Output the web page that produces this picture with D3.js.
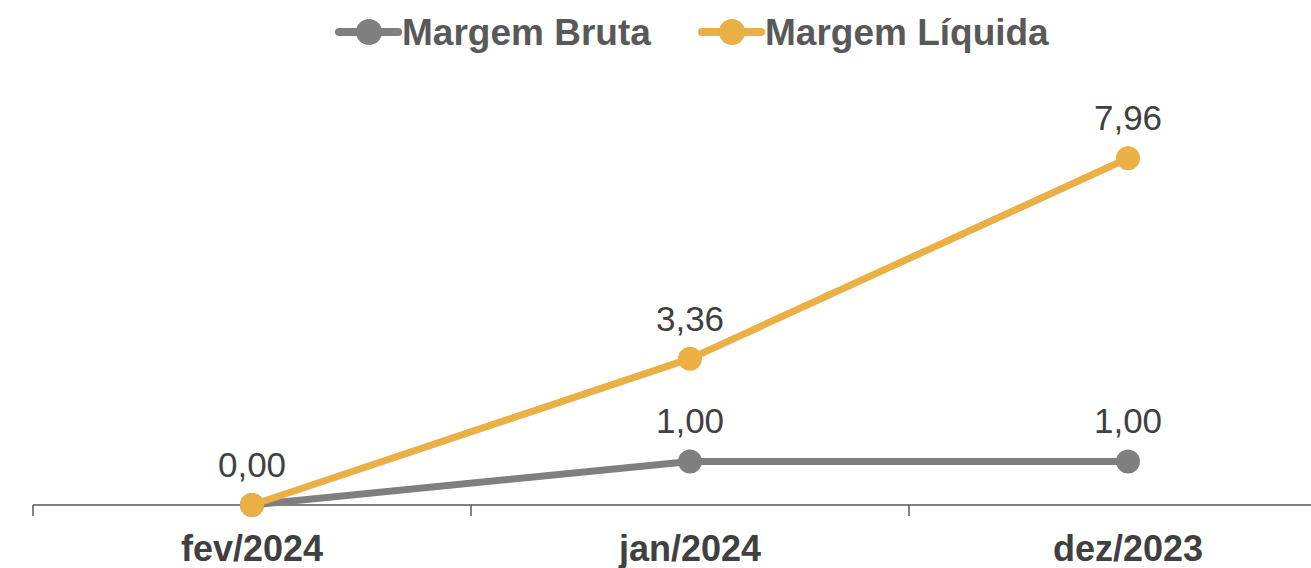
<!DOCTYPE html>
<html>
<head>
<meta charset="utf-8">
<script src="https://cdn.jsdelivr.net/npm/d3@7"></script>
<style>
  body { margin: 0; background: #fff; }
  svg text { font-family: "Liberation Sans", Arial, sans-serif; }
</style>
</head>
<body>
<div id="main"></div>
<script>
// chart data
const categories = ["fev/2024", "jan/2024", "dez/2023"];
const margemBruta = [0.00, 1.00, 1.00];
const margemLiquida = [0.00, 3.36, 7.96];
const seriesNames = ["Margem Bruta", "Margem Líquida"];
const seriesColors = ["#7f7f7f", "#eaaf45"];

const width = 1311;
const height = 568;
const fmt = v => d3.format(".2f")(v).replace(".", ",");

const svg = d3.select('#main').append('svg')
  .attr('width', width).attr('height', height);

// scales
const xScale = d3.scaleBand().domain(categories).range([33, 1347]);
const yScale = d3.scaleLinear().domain([0, 9]).range([505, 113]);
const xc = c => xScale(c) + xScale.bandwidth() / 2;

// x axis with ticks between categories
const axis = svg.append('g').attr('id', 'x-axis');
axis.append('line')
  .attr('x1', xScale.range()[0]).attr('x2', xScale.range()[1])
  .attr('y1', yScale(0)).attr('y2', yScale(0))
  .attr('stroke', '#595959').attr('stroke-width', 1.5);
axis.selectAll('line.tick').data(categories.concat(["end"]))
  .enter().append('line').attr('class', 'tick')
  .attr('x1', (d, i) => xScale.range()[0] + i * xScale.step())
  .attr('x2', (d, i) => xScale.range()[0] + i * xScale.step())
  .attr('y1', yScale(0)).attr('y2', yScale(0) + 11)
  .attr('stroke', '#595959').attr('stroke-width', 1.5);
axis.selectAll('text').data(categories)
  .enter().append('text')
  .attr('x', d => xc(d)).attr('y', 561)
  .attr('text-anchor', 'middle')
  .attr('font-size', 36).attr('font-weight', 'bold')
  .attr('fill', '#404040')
  .text(d => d);

// series (drawn so that Liquida sits on top)
const series = [
  { name: seriesNames[0], values: margemBruta, color: seriesColors[0] },
  { name: seriesNames[1], values: margemLiquida, color: seriesColors[1] }
];

const line = d3.line()
  .x((d, i) => xc(categories[i]))
  .y(d => yScale(d));

series.forEach(function(s){
  const g = svg.append('g').attr('class', 'series');
  g.append('path').datum(s.values)
    .attr('d', line)
    .attr('fill', 'none')
    .attr('stroke', s.color)
    .attr('stroke-width', 7);
  g.selectAll('circle').data(s.values)
    .enter().append('circle')
    .attr('cx', (d, i) => xc(categories[i]))
    .attr('cy', d => yScale(d))
    .attr('r', 12)
    .attr('fill', s.color);
});

// data labels (the 0,00 label shown once at the shared point)
series.forEach(function(s, si){
  svg.append('g').selectAll('text').data(s.values)
    .enter().filter((d, i) => !(si === 0 && i === 0))
    .append('text')
    .attr('x', (d, i) => xc(categories[si === 0 ? i + 1 : i]))
    .attr('y', d => yScale(d) - 28)
    .attr('text-anchor', 'middle')
    .attr('font-size', 35)
    .attr('fill', '#404040')
    .text(d => fmt(d));
});

// legend
const legendItems = [
  { name: seriesNames[0], color: seriesColors[0], x: 339 },
  { name: seriesNames[1], color: seriesColors[1], x: 702 }
];
const legend = svg.append('g').attr('id', 'legend');
legendItems.forEach(function(it){
  legend.append('line')
    .attr('x1', it.x).attr('x2', it.x + 59)
    .attr('y1', 32).attr('y2', 32)
    .attr('stroke', it.color).attr('stroke-width', 8)
    .attr('stroke-linecap', 'round');
  legend.append('circle')
    .attr('cx', it.x + 30).attr('cy', 32).attr('r', 13)
    .attr('fill', it.color);
  legend.append('text')
    .attr('x', it.x + 63).attr('y', 45)
    .attr('font-size', 37).attr('font-weight', 'bold')
    .attr('fill', '#595959')
    .text(it.name);
});
</script>
</body>
</html>
